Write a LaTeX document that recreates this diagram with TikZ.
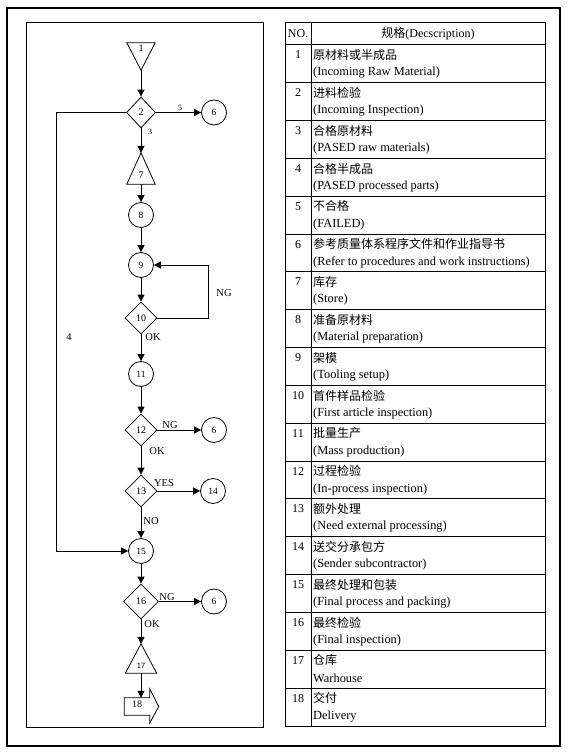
\documentclass[tikz,border=0pt]{standalone}
\usepackage{fontspec}
\setmainfont{Liberation Serif}
\newfontfamily\cjk{Noto Sans CJK SC}
\usepackage{tikz}
\usetikzlibrary{arrows.meta,calc,shapes.geometric}

\tikzset{
  flow/.style={line width=1pt,-{Triangle[length=7pt,width=7pt]}},
  plain/.style={line width=1pt},
  circ/.style={circle,draw,line width=0.8pt,minimum size=25pt,inner sep=0pt,
    font=\fontsize{9.5}{9.5}\selectfont},
  dia/.style={diamond,draw,line width=0.8pt,minimum width=32pt,minimum height=32pt,
    inner sep=0pt,font=\fontsize{10}{10}\selectfont},
  tribox/.style={rectangle,inner sep=0pt,font=\fontsize{10}{10}\selectfont},
  tag/.style={inner sep=0pt,font=\fontsize{10.5}{10.5}\selectfont},
  smalltag/.style={inner sep=0pt,font=\fontsize{8}{8}\selectfont},
  tabline/.style={line width=1pt},
  numcell/.style={inner sep=0pt,font=\fontsize{12}{12}\selectfont},
  zhcell/.style={inner sep=0pt,anchor=west,font=\fontsize{12}{12}\selectfont\cjk},
  encell/.style={inner sep=0pt,anchor=west,font=\fontsize{12.4}{12.4}\selectfont},
}

\begin{document}
\begin{tikzpicture}[x=1pt,y=-1pt]
\useasboundingbox (0,0) rectangle (567,754);

% frames
\draw[line width=2pt] (7,8) rectangle (560,746);
\draw[plain] (26,23) rectangle (263,727);

% ── flow chart nodes ───────────────────────────────────────
\node[tribox,minimum width=28pt,minimum height=27pt,text depth=16pt] (n1) at (141,56.5) {1};
\draw[line width=0.8pt] (n1.north west) -- (n1.north east) -- (n1.south) -- cycle;
\node[dia,minimum width=29pt,minimum height=31pt] (n2) at (141,112.5) {2};
\node[circ] (c6a) at (214,112.5) {6};
\node[tribox,minimum width=28pt,minimum height=31pt,text height=20pt,text depth=0pt] (n7) at (141,168.5) {7};
\draw[line width=0.8pt] (n7.south west) -- (n7.south east) -- (n7.north) -- cycle;
\node[circ] (n8) at (141,215) {8};
\node[circ] (n9) at (141,265) {9};
\node[dia] (n10) at (141,318) {10};
\node[circ] (n11) at (141,374) {11};
\node[dia] (n12) at (141,430) {12};
\node[circ] (c6b) at (214,430) {6};
\node[dia] (n13) at (141,491) {13};
\node[circ] (n14) at (213,491) {14};
\node[circ] (n15) at (141,551) {15};
\node[dia,minimum width=35pt,minimum height=35pt] (n16) at (141,601.5) {16};
\node[circ] (c6c) at (214,601.5) {6};
\node[tribox,minimum width=31pt,minimum height=29pt,text height=20pt,text depth=0pt,
  font=\fontsize{8}{8}\selectfont\sffamily] (n17) at (141,658.5) {17};
\draw[line width=0.8pt] (n17.south west) -- (n17.south east) -- (n17.north) -- cycle;
\node[tribox,minimum width=25pt,minimum height=17pt,text depth=4pt] (n18) at (137,706.5) {18};
\draw[line width=0.8pt] (n18.north west) -- (n18.north east) -- ++(0,-9)
  -- ([xshift=9pt]n18.east) -- ([yshift=-8pt]n18.south east)
  -- (n18.south east) -- (n18.south west) -- cycle;

% ── connectors ─────────────────────────────────────────────
\draw[flow] (n1.south) -- (n2.north);
\draw[flow] (n2.east) -- (c6a.west);
\draw[flow] (n2.south) -- (n7.north);
\draw[flow] (n2.west) -- (56,112.5) |- (n15.west);
\draw[flow] (n7.south) -- (n8.north);
\draw[flow] (n8.south) -- (n9.north);
\draw[flow] (n9.south) -- (n10.north);
\draw[flow] (n10.east) -- (208,318) |- (n9.east);
\draw[flow] (n10.south) -- (n11.north);
\draw[flow] (n11.south) -- (n12.north);
\draw[flow] (n12.east) -- (c6b.west);
\draw[flow] (n12.south) -- (n13.north);
\draw[flow] (n13.east) -- (n14.west);
\draw[flow] (n13.south) -- (n15.north);
\draw[flow] (n15.south) -- (n16.north);
\draw[flow] (n16.east) -- (c6c.west);
\draw[flow] (n16.south) -- (n17.north);
\draw[flow] (n17.south) -- (n17.south |- n18.north);

% ── connector labels ───────────────────────────────────────
\node[smalltag] (l5) at (180,108) {5};
\node[smalltag] (l3) at (150,132) {3};
\node[tag] (l4) at (69,337) {4};
\node[tag] (lng10) at (224,293) {NG};
\node[tag] (lok10) at (153,337) {OK};
\node[tag] (lng12) at (170,425) {NG};
\node[tag] (lok12) at (157,451) {OK};
\node[tag] (lyes13) at (164,483) {YES};
\node[tag] (lno13) at (151,521) {NO};
\node[tag] (lng16) at (167,597) {NG};
\node[tag] (lok16) at (152,624) {OK};

% ── description table ──────────────────────────────────────
\draw[tabline] (285,23) rectangle (545,726);
\draw[tabline] (311,23) -- (311,726);
\foreach \k in {0,...,17}
  \draw[tabline] (285,45+\k*37.83) -- (545,45+\k*37.83);
\node[numcell] (hno) at (298,34) {NO.};
\node[numcell] (hdesc) at (428,34) {{\cjk 规格}(Decscription)};
\foreach \i/\zh/\en in {
  1/原材料或半成品/(Incoming Raw Material),
  2/进料检验/(Incoming Inspection),
  3/合格原材料/(PASED raw materials),
  4/合格半成品/(PASED processed parts),
  5/不合格/(FAILED),
  6/参考质量体系程序文件和作业指导书/(Refer to procedures and work instructions),
  7/库存/(Store),
  8/准备原材料/(Material preparation),
  9/架模/(Tooling setup),
  10/首件样品检验/(First article inspection),
  11/批量生产/(Mass production),
  12/过程检验/(In-process inspection),
  13/额外处理/(Need external processing),
  14/送交分承包方/(Sender subcontractor),
  15/最终处理和包装/(Final process and packing),
  16/最终检验/(Final inspection),
  17/仓库/Warhouse,
  18/交付/Delivery}{
  \pgfmathsetmacro\rowtop{45+(\i-1)*37.83}
  \node[numcell] (no\i) at (298,\rowtop+10) {\i};
  \node[zhcell] (zh\i) at (313,\rowtop+10) {\zh};
  \node[encell] (en\i) at (313,\rowtop+28) {\en};
}
\end{tikzpicture}
\end{document}
